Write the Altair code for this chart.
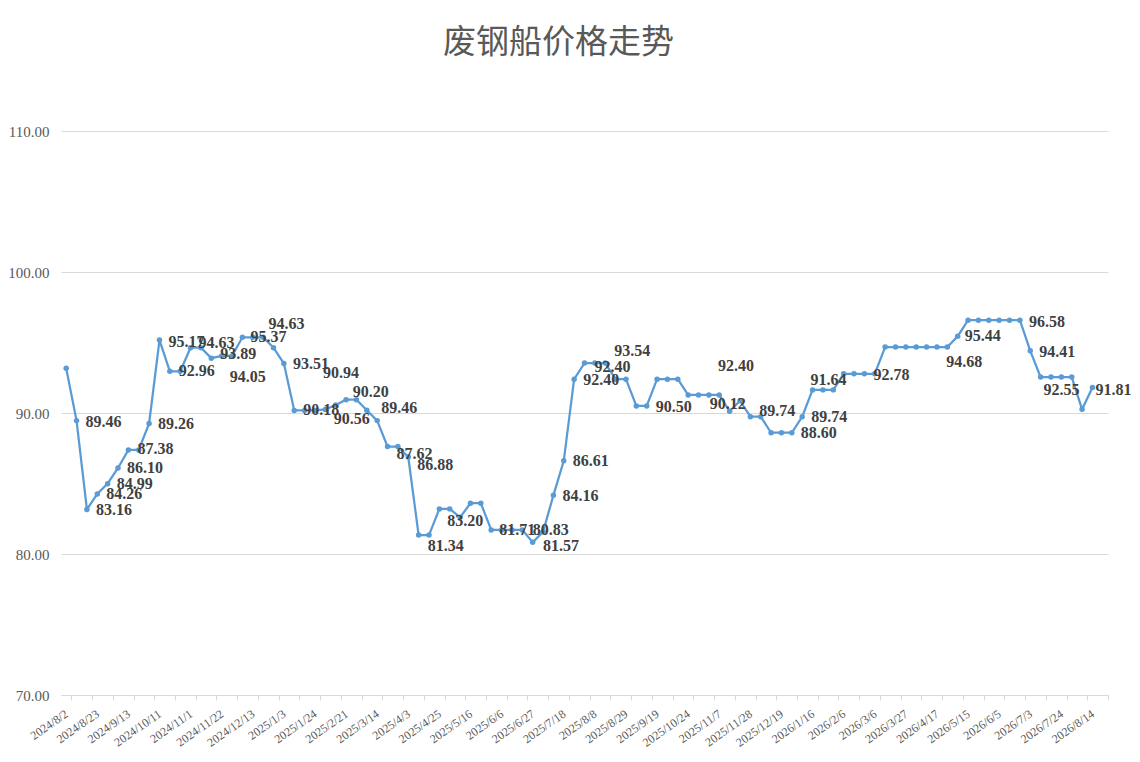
import json
import altair as alt
import pandas as pd

# ---------------- data ----------------
dates = [
    "2024/8/2", "2024/8/9", "2024/8/16", "2024/8/23", "2024/8/30", "2024/9/6", "2024/9/13",
    "2024/9/20", "2024/9/27", "2024/10/11", "2024/10/18", "2024/10/25", "2024/11/1",
    "2024/11/8", "2024/11/15", "2024/11/22", "2024/11/29", "2024/12/6", "2024/12/13",
    "2024/12/20", "2024/12/27",
    "2025/1/3", "2025/1/10", "2025/1/17", "2025/1/24", "2025/2/7", "2025/2/14", "2025/2/21",
    "2025/2/28", "2025/3/7", "2025/3/14", "2025/3/21", "2025/3/28", "2025/4/3", "2025/4/11",
    "2025/4/18", "2025/4/25", "2025/4/30", "2025/5/9", "2025/5/16", "2025/5/23", "2025/5/30",
    "2025/6/6", "2025/6/13", "2025/6/20", "2025/6/27", "2025/7/4", "2025/7/11", "2025/7/18",
    "2025/7/25", "2025/8/1", "2025/8/8", "2025/8/15", "2025/8/22", "2025/8/29", "2025/9/5",
    "2025/9/12", "2025/9/19", "2025/9/26", "2025/10/17", "2025/10/24", "2025/10/31",
    "2025/11/4", "2025/11/7", "2025/11/14", "2025/11/21", "2025/11/28", "2025/12/5",
    "2025/12/12", "2025/12/19", "2025/12/26",
    "2026/1/9", "2026/1/16", "2026/1/23", "2026/1/30", "2026/2/6", "2026/2/13", "2026/2/27",
    "2026/3/6", "2026/3/13", "2026/3/20", "2026/3/27", "2026/4/3", "2026/4/10", "2026/4/17",
    "2026/4/24", "2026/5/8", "2026/5/15", "2026/5/22", "2026/5/29", "2026/6/5", "2026/6/12",
    "2026/6/26", "2026/7/3", "2026/7/10", "2026/7/17", "2026/7/24", "2026/7/31", "2026/8/7",
    "2026/8/14",
]
empty_category = ["2026/8/21"]

prices = [
    93.17, 89.46, 83.16, 84.26, 84.99, 86.10, 87.38, 87.38, 89.26, 95.17,
    92.96, 92.96, 94.63, 94.63, 93.89, 94.05, 94.05, 95.37, 95.37, 95.37,
    94.63, 93.51, 90.18, 90.18, 90.18, 90.25, 90.56, 90.94, 90.94, 90.20,
    89.46, 87.62, 87.62, 86.88, 81.34, 81.34, 83.20, 83.20, 82.60, 83.60,
    83.60, 81.71, 81.71, 81.71, 81.71, 80.83, 81.57, 84.16, 86.61, 92.40,
    93.54, 93.54, 93.54, 92.40, 92.40, 90.50, 90.50, 92.40, 92.40, 92.40,
    91.28, 91.28, 91.28, 91.28, 90.12, 90.87, 89.74, 89.74, 88.60, 88.60,
    88.60, 89.74, 91.64, 91.64, 91.64, 92.78, 92.78, 92.78, 92.78, 94.68,
    94.68, 94.68, 94.68, 94.68, 94.68, 94.68, 95.44, 96.58, 96.58, 96.58,
    96.58, 96.58, 96.58, 94.41, 92.55, 92.55, 92.55, 92.55, 90.26, 91.81,
]

# data labels: point index they belong to, and their text
label_idx = [1, 2, 3, 4, 5, 6, 8, 9, 10, 12, 14, 15, 17, 20, 21, 22, 27, 26, 29, 30,
             31, 33, 34, 36, 41, 45, 46, 47, 48, 49, 50, 52, 56, 65, 64, 66, 70, 71, 72, 77,
             85, 86, 92, 93, 94, 99]
label_text = ["89.46", "83.16", "84.26", "84.99", "86.10", "87.38", "89.26", "95.17", "92.96",
              "94.63", "93.89", "94.05", "95.37", "94.63", "93.51", "90.18", "90.94", "90.56",
              "90.20", "89.46", "87.62", "86.88", "81.34", "83.20", "81.71", "80.83", "81.57",
              "84.16", "86.61", "92.40", "92.40", "93.54", "90.50", "92.40", "90.12", "89.74",
              "88.60", "89.74", "91.64", "92.78", "94.68", "95.44", "96.58", "94.41", "92.55",
              "91.81"]

# ---------------- style: label offsets (pixels from the point) ----------------
label_dx = [27, 27, 27, 27, 27, 27, 27, 27, 27, 26, 27, 26, 26, 13, 27, 27, -5, 16, 4, 22,
            27, 27, 27, 26, 26, 18, 18, 27, 27, 27, 28, 27, 27, -4, -2, 27, 27, 27, 16, 27,
            17, 25, 27, 27, 21, 21]
label_dy = [1, 1, 0, 0, 0, -1, 1, 2, 0, -5, -4, 21, 0, -24, 0, 0, -27, 14, -18, -13,
            7, 8, 11, 12, 0, -12, 14, 1, 0, 1, 4, -12, 1, -35, -7, -6, 0, 0, -10, 1,
            15, 0, 2, 1, 13, 3]

# ---------------- build ----------------
cats = dates + empty_category
tick_vals = [c for k, c in enumerate(cats) if k % 2 == 0]
lab_vals = [c for k, c in enumerate(dates) if k % 3 == 0]
axis_vals = [c for k, c in enumerate(cats) if k % 2 == 0 or k % 3 == 0]

df = pd.DataFrame({"date": dates, "value": prices})
ldf = pd.DataFrame({
    "date": [dates[i] for i in label_idx],
    "value": [prices[i] for i in label_idx],
    "text": label_text,
    "dx": label_dx,
    "dy": label_dy,
})

serif = "Liberation Serif"
grey = "#595959"
line_color = "#5b9bd5"

label_expr = "indexof(" + json.dumps(lab_vals) + ", datum.value) >= 0 ? datum.label : ''"
tick_test = "indexof(" + json.dumps(tick_vals) + ", datum.value) >= 0"

x_enc = alt.X(
    "date:N",
    title=None,
    scale=alt.Scale(type="band", domain=cats, paddingInner=0, paddingOuter=0),
    axis=alt.Axis(
        values=axis_vals,
        labelExpr=label_expr,
        tickBand="extent",
        ticks=True,
        tickSize=5,
        tickColor="#d9d9d9",
        tickOpacity={"condition": {"test": tick_test, "value": 1}, "value": 0},
        domainColor="#d9d9d9",
        domainWidth=1,
        labelAngle=-35,
        labelAlign="right",
        labelBaseline="middle",
        labelPadding=12,
        labelFont=serif,
        labelFontSize=12,
        labelColor=grey,
        labelOverlap=False,
        grid=False,
    ),
)
y_enc = alt.Y(
    "value:Q",
    title=None,
    scale=alt.Scale(domain=[70, 110], zero=False, nice=False),
    axis=alt.Axis(
        values=[70, 80, 90, 100, 110],
        format=".2f",
        grid=True,
        gridColor="#d9d9d9",
        gridWidth=1,
        domain=False,
        ticks=False,
        labelFont=serif,
        labelFontSize=15,
        labelColor=grey,
        labelPadding=12,
    ),
)

line = alt.Chart(df).mark_line(color=line_color, strokeWidth=2.25).encode(x=x_enc, y=y_enc)
pts = alt.Chart(df).mark_point(filled=True, size=30, color=line_color, opacity=1).encode(x=x_enc, y=y_enc)

text_layers = []
for (dx, dy), g in ldf.groupby(["dx", "dy"]):
    text_layers.append(
        alt.Chart(g.drop(columns=["dx", "dy"])).mark_text(
            dx=int(dx), dy=int(dy), align="center", baseline="middle",
            font=serif, fontSize=16, fontWeight="bold", color="#404040",
        ).encode(x=x_enc, y=y_enc, text="text:N")
    )

chart = alt.layer(line, pts, *text_layers).properties(
    width=1047,
    height=564,
    title=alt.TitleParams(
        "废钢船价格走势",
        font="Noto Sans CJK SC",
        fontSize=33,
        fontWeight="normal",
        color=grey,
        anchor="middle",
        dx=-26,
        offset=64,
    ),
    padding={"left": 53, "top": 123, "right": 24, "bottom": 57},
    autosize=alt.AutoSizeParams(type="none"),
    background="white",
).configure_view(stroke=None)

chart.save("out.html", embed_options={"renderer": "svg", "actions": False})
